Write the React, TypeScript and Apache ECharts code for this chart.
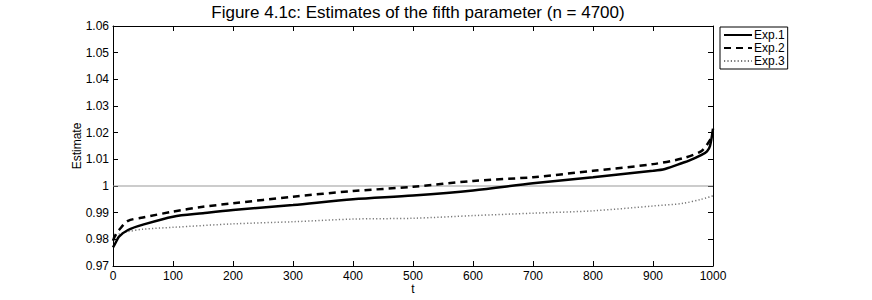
import React, { useEffect, useRef } from "react";
import * as echarts from "echarts";

const titleText = "Figure 4.1c: Estimates of the fifth parameter (n = 4700)";
const seriesNames = ["Exp.1", "Exp.2", "Exp.3"];

const t1 = [0, 5, 10, 25, 50, 100, 150, 200, 300, 400, 500, 600, 700, 800, 900, 920, 950, 960, 980, 990, 995, 1000];
const exp1 = [0.977, 0.979, 0.981, 0.9835, 0.9855, 0.9885, 0.9898, 0.991, 0.9929, 0.995, 0.9964, 0.9983, 1.001, 1.0033, 1.0057, 1.0064, 1.0087, 1.0095, 1.0116, 1.013, 1.015, 1.0215];

const t2 = [0, 5, 10, 25, 50, 100, 150, 200, 300, 400, 500, 600, 700, 800, 900, 950, 980, 990, 1000];
const exp2 = [0.9795, 0.982, 0.9835, 0.9869, 0.9882, 0.9904, 0.9922, 0.9935, 0.996, 0.9981, 0.9997, 1.0019, 1.0033, 1.0057, 1.0082, 1.0104, 1.013, 1.0155, 1.019];

const t3 = [0, 10, 25, 50, 100, 200, 300, 400, 500, 600, 700, 800, 900, 950, 980, 1000];
const exp3 = [0.9805, 0.982, 0.9829, 0.9838, 0.9845, 0.9858, 0.9866, 0.9876, 0.9879, 0.9889, 0.9898, 0.9907, 0.9925, 0.9935, 0.995, 0.9963];

const refT = [0, 1000];
const refV = [1, 1];

const zip = (xs: number[], ys: number[]) => xs.map((x, i) => [x, ys[i]]);

export default function App() {
  const ref = useRef<HTMLDivElement>(null);
  useEffect(() => {
    document.body.style.margin = "0";
    const chart = echarts.init(ref.current!, null, { renderer: "svg" });
    const font = "Liberation Sans, Arial, Helvetica, sans-serif";
    const axisCommon = {
      axisLine: { show: true, onZero: false, lineStyle: { color: "#000", width: 1 } },
      axisTick: { show: true, inside: true, length: 5, lineStyle: { color: "#000" } },
      splitLine: { show: false },
    };
    chart.setOption({
      animation: false,
      backgroundColor: "#fff",
      textStyle: { fontFamily: font },
      title: {
        text: titleText,
        left: 413,
        textAlign: "center",
        top: -1,
        textStyle: { fontSize: 17, fontWeight: "normal", color: "#000", fontFamily: font },
      },
      legend: {
        data: seriesNames,
        orient: "vertical",
        left: 720,
        top: 27,
        padding: [2, 3, 2, 3],
        itemGap: 1,
        itemWidth: 28,
        itemHeight: 12,
        borderColor: "#000",
        borderWidth: 1,
        borderRadius: 0,
        backgroundColor: "#fff",
        itemStyle: { opacity: 0 },
        textStyle: { fontSize: 12, color: "#000", fontFamily: font, padding: [0, 0, 0, -3] },
      },
      grid: { left: 113, right: 159, top: 26, bottom: 33, containLabel: false },
      xAxis: [
        {
          type: "value",
          min: 0,
          max: 1000,
          interval: 100,
          name: "t",
          nameLocation: "middle",
          nameGap: 17,
          nameMoveOverlap: false,
          nameTextStyle: { fontSize: 12, color: "#000" },
          axisLabel: { fontSize: 12, color: "#000", margin: 4, formatter: (v: number) => String(v) },
          ...axisCommon,
        },
        {
          type: "value",
          position: "top",
          min: 0,
          max: 1000,
          interval: 100,
          axisLabel: { show: false },
          ...axisCommon,
        },
      ],
      yAxis: [
        {
          type: "value",
          min: 0.97,
          max: 1.06,
          interval: 0.01,
          name: "Estimate",
          nameLocation: "middle",
          nameGap: 30,
          nameMoveOverlap: false,
          nameTextStyle: { fontSize: 12, color: "#000" },
          axisLabel: {
            fontSize: 12,
            color: "#000",
            margin: 4,
            formatter: (v: number) => String(parseFloat(v.toFixed(2))),
          },
          ...axisCommon,
        },
        {
          type: "value",
          position: "right",
          min: 0.97,
          max: 1.06,
          interval: 0.01,
          axisLabel: { show: false },
          ...axisCommon,
        },
      ],
      series: [
        {
          name: "ref",
          type: "line",
          data: zip(refT, refV),
          symbol: "none",
          silent: true,
          lineStyle: { color: "#999", width: 1 },
          z: 1,
        },
        {
          name: seriesNames[2],
          type: "line",
          data: zip(t3, exp3),
          symbol: "none",
          smooth: 0.3,
          color: "#777",
          lineStyle: { color: "#777", width: 1.5, type: [1.2, 2.2] },
          z: 2,
        },
        {
          name: seriesNames[1],
          type: "line",
          data: zip(t2, exp2),
          symbol: "none",
          smooth: 0.3,
          color: "#000",
          lineStyle: { color: "#000", width: 2.5, type: [7, 5] },
          z: 3,
        },
        {
          name: seriesNames[0],
          type: "line",
          data: zip(t1, exp1),
          symbol: "none",
          smooth: 0.3,
          color: "#000",
          lineStyle: { color: "#000", width: 2.5 },
          z: 4,
        },
      ],
    });
    return () => chart.dispose();
  }, []);
  return <div ref={ref} style={{ width: 872, height: 300 }} />;
}
